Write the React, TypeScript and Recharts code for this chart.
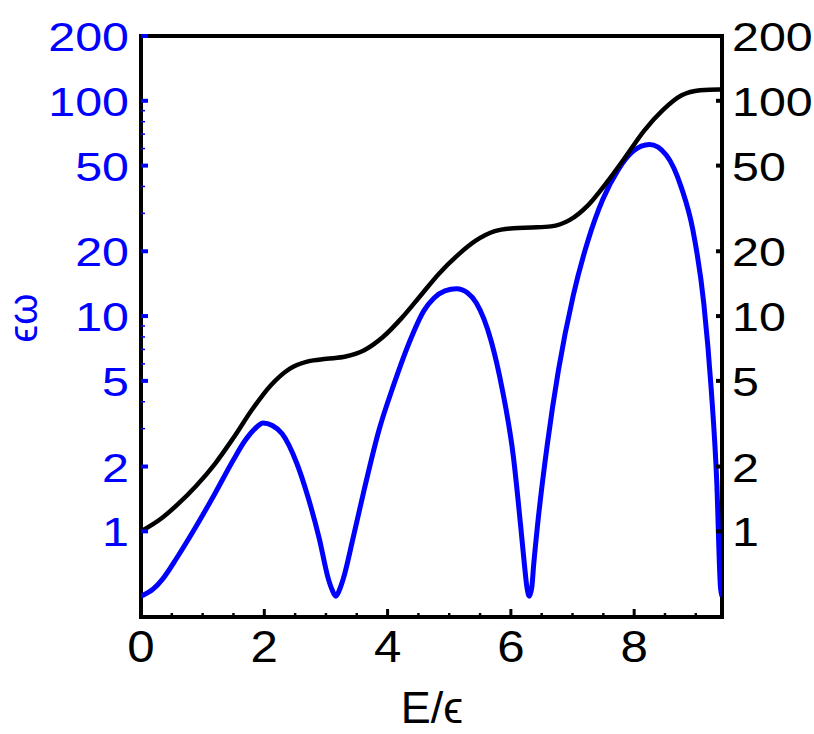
import { LineChart, Line, XAxis, YAxis, ReferenceArea } from "recharts";

const blueE = [
  0, 0.2, 0.35, 0.59, 0.89, 1.2, 1.5, 1.68, 1.85, 1.98, 2.13, 2.29, 2.53, 2.71, 2.89, 3.04,
  3.1, 3.16, 3.22, 3.28, 3.44, 3.62, 3.86, 4.1, 4.34, 4.59, 4.75, 4.93, 5.12, 5.3, 5.44, 5.68, 5.86,
  6.04, 6.16, 6.22, 6.26, 6.3, 6.34, 6.37, 6.43, 6.59, 6.77, 7.01, 7.25, 7.49, 7.74, 7.98,
  8.25, 8.52, 8.77, 8.95, 9.13, 9.25, 9.34, 9.4, 9.4248,
];
const blueW = [
  0.5, 0.54, 0.6, 0.76, 1.05, 1.5, 2.15, 2.62, 3.0, 3.19, 3.1, 2.84, 2.06, 1.44, 0.93, 0.6,
  0.535, 0.5, 0.535, 0.6, 0.93, 1.56, 2.95, 4.8, 7.4, 10.6, 12.1, 13.1, 13.4, 12.8, 11.5, 7.66, 4.57,
  2.23, 1.05, 0.7, 0.55, 0.5, 0.55, 0.7, 1.05, 2.52, 5.57, 12.4, 22.4, 34.8, 47.8, 58.2,
  62.6, 56.0, 39.2, 25.3, 11.4, 4.57, 1.69, 0.55, 0.5,
];

const blackE = [
  0, 0.35, 0.59, 0.89, 1.2, 1.5, 1.8, 2.1, 2.41, 2.71, 3.01, 3.32, 3.62, 3.92, 4.22, 4.53,
  4.83, 5.13, 5.43, 5.74, 6.04, 6.34, 6.65, 6.95, 7.25, 7.55, 7.86, 8.16, 8.46, 8.77, 9.07,
  9.37, 9.4248,
];
const blackW = [
  1.0, 1.16, 1.33, 1.62, 2.06, 2.72, 3.67, 4.75, 5.69, 6.16, 6.33, 6.49, 6.94, 7.97, 9.73, 12.4,
  15.7, 19.1, 22.4, 24.8, 25.6, 25.8, 26.1, 27.9, 32.7, 41.6, 54.9, 72.5, 90.2, 106, 112,
  113, 113,
];

const xTicks = [0, 0.5, 1, 1.5, 2, 2.5, 3, 3.5, 4, 4.5, 5, 5.5, 6, 6.5, 7, 7.5, 8, 8.5, 9];
const yMajor = [1, 2, 5, 10, 20, 50, 100, 200];
const yMinor = [3, 4, 6, 7, 8, 9, 30, 40, 60, 70, 80, 90];

const blueData = blueE.map((e, i) => ({ e, w: blueW[i] }));
const blackData = blackE.map((e, i) => ({ e, w: blackW[i] }));

const BLUE = "#0000ff";
const FONT = "'Liberation Sans', Arial, Helvetica, sans-serif";
const XMAX = 3 * Math.PI;

function XTick(props: any) {
  const { x, y, payload } = props;
  const v = payload.value;
  const major = v % 2 === 0;
  return (
    <g>
      <line x1={x} x2={x} y1={y} y2={y - (major ? 8 : 4)} stroke="#000" strokeWidth={major ? 3 : 2.5} />
      {major && (
        <text
          transform={`translate(${x},${y + 45}) scale(1.12,1)`}
          textAnchor="middle"
          fontFamily={FONT}
          fontSize={44}
          fill="#000"
        >
          {v}
        </text>
      )}
    </g>
  );
}

function LeftTick(props: any) {
  const { x, y, payload } = props;
  const v = payload.value;
  const major = yMajor.includes(v);
  return (
    <g>
      <line x1={x} x2={x + (major ? 7 : 4)} y1={y} y2={y} stroke={BLUE} strokeWidth={major ? 4 : 1.5} />
      {major && (
        <text
          transform={`translate(${x - 12},${y + 15}) scale(1.18,1)`}
          textAnchor="end"
          fontFamily={FONT}
          fontSize={41}
          fill={BLUE}
        >
          {v}
        </text>
      )}
    </g>
  );
}

function RightTick(props: any) {
  const { x, y, payload } = props;
  const v = payload.value;
  return (
    <g>
      <line x1={x} x2={x - 6} y1={y} y2={y} stroke="#000" strokeWidth={4} />
      <text
        transform={`translate(${x + 10},${y + 15}) scale(1.18,1)`}
        textAnchor="start"
        fontFamily={FONT}
        fontSize={41}
        fill="#000"
      >
        {v}
      </text>
    </g>
  );
}

export default function App() {
  return (
    <div style={{ position: "absolute", left: 0, top: 0, width: 814, height: 734, background: "#fff" }}>
      <LineChart width={814} height={734} margin={{ top: 36, right: 32, bottom: 57, left: 81 }}>
        <XAxis
          dataKey="e"
          type="number"
          domain={[0, XMAX]}
          allowDataOverflow
          ticks={xTicks}
          interval={0}
          tickSize={0}
          tickMargin={0}
          axisLine={false}
          tickLine={false}
          tick={XTick}
          height={60}
        />
        <YAxis
          yAxisId="left"
          orientation="left"
          type="number"
          scale="log"
          domain={[0.4, 200]}
          allowDataOverflow
          ticks={[...yMajor, ...yMinor].sort((a, b) => a - b)}
          interval={0}
          tickSize={0}
          tickMargin={0}
          axisLine={false}
          tickLine={false}
          tick={LeftTick}
          width={60}
        />
        <YAxis
          yAxisId="right"
          orientation="right"
          type="number"
          scale="log"
          domain={[0.4, 200]}
          allowDataOverflow
          ticks={yMajor}
          interval={0}
          tickSize={0}
          tickMargin={0}
          axisLine={false}
          tickLine={false}
          tick={RightTick}
          width={60}
        />
        <Line
          yAxisId="left"
          data={blueData}
          dataKey="w"
          type="monotone"
          stroke={BLUE}
          strokeWidth={5}
          dot={false}
          isAnimationActive={false}
        />
        <Line
          yAxisId="right"
          data={blackData}
          dataKey="w"
          type="monotone"
          stroke="#000"
          strokeWidth={4.5}
          dot={false}
          isAnimationActive={false}
        />
        <ReferenceArea
          yAxisId="left"
          x1={0}
          x2={XMAX}
          y1={0.4}
          y2={200}
          fill="none"
          stroke="#000"
          strokeWidth={4}
          ifOverflow="visible"
        />
        <text x={432} y={723} textAnchor="middle" fontFamily={FONT} fontSize={45} fill="#000">
          E/ϵ
        </text>
        <text
          transform="translate(37,318) rotate(-90)"
          textAnchor="middle"
          fontFamily={FONT}
          fontSize={40}
          fill={BLUE}
        >
          ϵω
        </text>
      </LineChart>
    </div>
  );
}
